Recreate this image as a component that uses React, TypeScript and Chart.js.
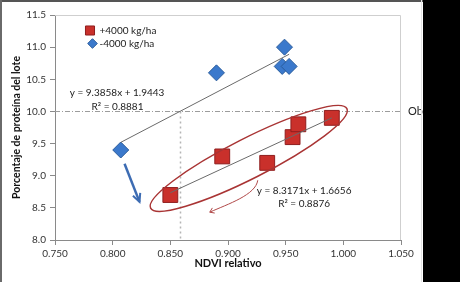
import React, { useEffect, useRef } from 'react';
import { Chart, registerables } from 'chart.js';

Chart.register(...registerables);

// ---- data ----
const seriesLabels = ['+4000 kg/ha', '-4000 kg/ha'];
const plusNdvi = [0.85, 0.895, 0.934, 0.956, 0.961, 0.99];
const plusProtein = [8.7, 9.3, 9.2, 9.6, 9.8, 9.9];
const minusNdvi = [0.807, 0.89, 0.949, 0.947, 0.953];
const minusProtein = [9.4, 10.6, 11.0, 10.7, 10.7];
const plusFit = [8.3171, 1.6656, 0.8876]; // slope, intercept, R²
const minusFit = [9.3858, 1.9443, 0.8881];
const targetProtein = 10.0;
const targetNdvi = 0.858;
const targetLabel = 'Ob';
const xTitle = 'NDVI relativo';
const yTitle = 'Porcentaje de proteína del lote';

const FONT = "Lato, 'Open Sans', sans-serif";

function fitLine(xs: number[], fit: number[]) {
  const lo = Math.min(...xs);
  const hi = Math.max(...xs);
  return [
    { x: lo, y: fit[0] * lo + fit[1] },
    { x: hi, y: fit[0] * hi + fit[1] },
  ];
}
function eqText(fit: number[]) {
  return `y = ${fit[0].toFixed(4)}x + ${fit[1].toFixed(4)}`;
}
function r2Text(fit: number[]) {
  return `R² = ${fit[2].toFixed(4)}`;
}

function arrowHead(ctx: CanvasRenderingContext2D, fx: number, fy: number, tx: number, ty: number, len: number, spread: number) {
  const ang = Math.atan2(ty - fy, tx - fx);
  ctx.beginPath();
  ctx.moveTo(tx - len * Math.cos(ang - spread), ty - len * Math.sin(ang - spread));
  ctx.lineTo(tx, ty);
  ctx.lineTo(tx - len * Math.cos(ang + spread), ty - len * Math.sin(ang + spread));
  ctx.stroke();
}

function marker(ctx: CanvasRenderingContext2D, style: string, r: number, cx: number, cy: number) {
  ctx.beginPath();
  if (style === 'rect') {
    const h = r * Math.SQRT1_2;
    ctx.rect(cx - h, cy - h, 2 * h, 2 * h);
  } else {
    ctx.moveTo(cx, cy - r);
    ctx.lineTo(cx + r, cy);
    ctx.lineTo(cx, cy + r);
    ctx.lineTo(cx - r, cy);
    ctx.closePath();
  }
  ctx.fill();
  ctx.stroke();
}

const annot = {
  id: 'annot',
  beforeDatasetsDraw(chart: any) {
    const { ctx, chartArea: a, scales } = chart;
    const x = scales.x, y = scales.y;
    ctx.save();
    ctx.strokeStyle = '#cfcfcf';
    ctx.lineWidth = 1;
    ctx.beginPath();
    ctx.moveTo(a.left, a.top + 0.5);
    ctx.lineTo(a.right - 0.5, a.top + 0.5);
    ctx.lineTo(a.right - 0.5, a.bottom);
    ctx.stroke();
    const yt = Math.round(y.getPixelForValue(targetProtein)) + 0.5;
    ctx.strokeStyle = '#9c9c9c';
    ctx.setLineDash([5, 2, 1, 2]);
    ctx.beginPath();
    ctx.moveTo(a.left, yt);
    ctx.lineTo(a.right, yt);
    ctx.stroke();
    const xt = Math.round(x.getPixelForValue(targetNdvi)) + 0.5;
    ctx.strokeStyle = '#b5b5b5';
    ctx.lineWidth = 1.5;
    ctx.setLineDash([2, 3]);
    ctx.beginPath();
    ctx.moveTo(xt, yt);
    ctx.lineTo(xt, a.bottom);
    ctx.stroke();
    ctx.restore();
  },
  afterDatasetsDraw(chart: any) {
    const { ctx, chartArea: a, scales } = chart;
    const x = scales.x, y = scales.y;
    const px = (v: number) => x.getPixelForValue(v);
    const py = (v: number) => y.getPixelForValue(v);
    ctx.save();

    // ellipse around +4000 points
    const e1x = px(0.8329), e1y = py(8.495), e2x = px(1.0031), e2y = py(10.043);
    const cx = (e1x + e2x) / 2, cy = (e1y + e2y) / 2;
    const semi = Math.hypot(e2x - e1x, e2y - e1y) / 2;
    ctx.strokeStyle = '#a93434';
    ctx.lineWidth = 1.5;
    ctx.beginPath();
    ctx.ellipse(cx, cy, semi, 20, Math.atan2(e2y - e1y, e2x - e1x), 0, Math.PI * 2);
    ctx.stroke();

    // thin curved red arrow
    ctx.lineWidth = 1;
    ctx.strokeStyle = '#b04848';
    const p0 = [px(0.9258), py(8.929)], p1 = [px(0.924), py(8.70)], p2 = [px(0.900), py(8.56)], p3 = [px(0.8842), py(8.433)];
    ctx.beginPath();
    ctx.moveTo(p0[0], p0[1]);
    ctx.bezierCurveTo(p1[0], p1[1], p2[0], p2[1], p3[0], p3[1]);
    ctx.stroke();
    arrowHead(ctx, p2[0], p2[1], p3[0], p3[1], 5, 0.6);

    // blue arrow
    ctx.strokeStyle = '#3d6cb3';
    ctx.lineWidth = 2.5;
    const b0 = [px(0.8103), py(9.187)], b1 = [px(0.8233), py(8.593)];
    ctx.beginPath();
    ctx.moveTo(b0[0], b0[1]);
    ctx.lineTo(b1[0], b1[1]);
    ctx.stroke();
    ctx.lineWidth = 2;
    arrowHead(ctx, b0[0], b0[1], b1[0], b1[1], 9, 0.45);

    // equations
    ctx.fillStyle = '#222';
    ctx.font = `10px ${FONT}`;
    ctx.textAlign = 'center';
    ctx.textBaseline = 'middle';
    ctx.fillText(eqText(minusFit), px(0.8038), py(10.29));
    ctx.fillText(r2Text(minusFit), px(0.8042), py(10.08));
    ctx.fillText(eqText(plusFit), px(0.966), py(8.758));
    ctx.fillText(r2Text(plusFit), px(0.966), py(8.562));

    // target label
    ctx.textAlign = 'left';
    ctx.font = `11px ${FONT}`;
    ctx.fillText(targetLabel, a.right + 7, Math.round(py(targetProtein)) + 0.5);

    // legend
    const ds = chart.data.datasets;
    const items = [ds[2], ds[3]];
    const ys = [a.top + 15.5, a.top + 28.5];
    const xs = [a.left + 35, a.left + 37.5];
    const rs = [6.4, 4.8];
    ctx.font = `10px ${FONT}`;
    items.forEach((d: any, i: number) => {
      ctx.fillStyle = d.backgroundColor;
      ctx.strokeStyle = d.borderColor;
      ctx.lineWidth = 1;
      marker(ctx, d.pointStyle, rs[i], xs[i], ys[i]);
      ctx.fillStyle = '#222';
      ctx.fillText(d.label, a.left + 44.5, ys[i]);
    });
    ctx.restore();
  },
};

export default function App() {
  const ref = useRef<HTMLCanvasElement>(null);
  useEffect(() => {
    document.body.style.margin = '0';
    const canvas = ref.current!;
    const chart = new Chart(canvas, {
      type: 'scatter',
      data: {
        datasets: [
          {
            label: 'fit+',
            data: fitLine(plusNdvi, plusFit),
            showLine: true,
            borderColor: '#6a6a6a',
            borderWidth: 1,
            pointRadius: 0,
          },
          {
            label: 'fit-',
            data: fitLine(minusNdvi, minusFit),
            showLine: true,
            borderColor: '#6a6a6a',
            borderWidth: 1,
            pointRadius: 0,
          },
          {
            label: seriesLabels[0],
            data: plusNdvi.map((v, i) => ({ x: v, y: plusProtein[i] })),
            pointStyle: 'rect',
            pointRadius: 10.5,
            backgroundColor: '#c9302b',
            borderColor: '#8f1e1e',
            borderWidth: 1,
          },
          {
            label: seriesLabels[1],
            data: minusNdvi.map((v, i) => ({ x: v, y: minusProtein[i] })),
            pointStyle: 'rectRot',
            pointRadius: 8,
            backgroundColor: '#3b79cc',
            borderColor: '#2a5c9c',
            borderWidth: 1,
          },
        ],
      },
      options: {
        animation: false,
        responsive: false,
        devicePixelRatio: 1,
        layout: { padding: { left: 0, right: 22, top: 15, bottom: 0 } },
        plugins: { legend: { display: false }, tooltip: { enabled: false } },
        scales: {
          x: {
            type: 'linear',
            min: 0.75,
            max: 1.05,
            afterFit: (s: any) => { s.height = 42; },
            ticks: {
              stepSize: 0.05,
              callback: (v: any) => Number(v).toFixed(3),
              font: { family: FONT, size: 10 },
              color: '#333',
              padding: 3,
              maxRotation: 0,
            },
            grid: { drawOnChartArea: false, drawTicks: true, tickLength: 5, color: '#8a8a8a' },
            border: { color: '#8a8a8a' },
            title: {
              display: true,
              text: xTitle,
              font: { family: FONT, size: 11, weight: 'bold' },
              color: '#111',
              padding: { top: 0, bottom: 12 },
            },
          },
          y: {
            type: 'linear',
            min: 8,
            max: 11.5,
            afterFit: (s: any) => { s.width = 55; },
            ticks: {
              stepSize: 0.5,
              callback: (v: any) => Number(v).toFixed(1),
              font: { family: FONT, size: 10 },
              color: '#333',
              padding: 4,
            },
            grid: { drawOnChartArea: false, drawTicks: true, tickLength: 5, color: '#8a8a8a' },
            border: { color: '#8a8a8a' },
            title: {
              display: true,
              text: yTitle,
              font: { family: FONT, size: 10.5, weight: 'bold' },
              color: '#111',
              padding: { top: 10, bottom: 0 },
            },
          },
        },
      },
      plugins: [annot],
    } as any);
    return () => chart.destroy();
  }, []);

  return (
    <div style={{ position: 'relative', width: 460, height: 282, background: '#000' }}>
      <div style={{ position: 'absolute', left: 0, top: 0, width: 423, height: 282, background: '#fff', overflow: 'hidden' }}>
        <canvas ref={ref} width={423} height={282} style={{ position: 'absolute', left: 0, top: 0 }} />
        <div style={{ position: 'absolute', left: 0, top: 0, width: 423, height: 2, background: '#555' }} />
        <div style={{ position: 'absolute', left: 0, top: 0, width: 2, height: 282, background: '#6a6a6a' }} />
        <div style={{ position: 'absolute', left: 421, top: 0, width: 1, height: 282, background: '#e4e4e4' }} />
      </div>
    </div>
  );
}
